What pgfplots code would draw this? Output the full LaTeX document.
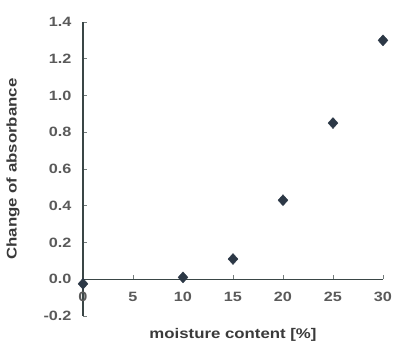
\documentclass[border=0pt]{standalone}
\usepackage{fontspec}
\setmainfont{Liberation Sans}[FakeStretch=1.2]
\usepackage{pgfplots}
\pgfplotsset{compat=1.18}
\definecolor{axc}{HTML}{3A4646}
\definecolor{mk}{HTML}{2C3846}
\definecolor{tk}{HTML}{5A5A5A}
\definecolor{lbl}{HTML}{3A3A3A}
\begin{document}
\begin{tikzpicture}
\begin{axis}[
  scale only axis, width=300pt, height=294pt,
  xmin=0, xmax=30, ymin=-0.2, ymax=1.4,
  axis lines=middle,
  axis line style={axc, line width=1.4pt, -},
  hide obscured x ticks=false, hide obscured y ticks=false,
  xtick={0,5,10,15,20,25,30},
  ytick={-0.2,0,0.2,0.4,0.6,0.8,1.0,1.2,1.4},
  tick align=inside,
  major tick length=4pt,
  tick style={axc!70, line width=0.6pt},
  /pgf/number format/assume math mode=true,
  yticklabel style={/pgf/number format/fixed, /pgf/number format/fixed zerofill, /pgf/number format/precision=1, xshift=-8pt},
  xticklabel style={/pgf/number format/fixed, /pgf/number format/precision=0, yshift=-9pt},
  every tick label/.append style={font=\fontsize{13.5}{15}\selectfont\bfseries, color=tk},
  every axis x label/.style={at={(axis description cs:0.5,-0.03)}, anchor=north, font=\fontsize{14}{16}\selectfont\bfseries, color=lbl},
  every axis y label/.style={at={(axis description cs:-0.2,0.5)}, rotate=90, anchor=south, font=\fontsize{14}{16}\selectfont\bfseries, color=lbl},
  xlabel={moisture content [\%]},
  ylabel={Change of absorbance},
  clip=false,
]
\addplot[only marks, mark=diamond*, mark size=5.5pt, mark options={draw=mk, fill=mk, xscale=1.2}]
  coordinates {(0,-0.025) (10,0.01) (15,0.11) (20,0.43) (25,0.85) (30,1.30)};
\path (axis description cs:-0.2767,-0.085) rectangle (axis description cs:1.0467,1.0748);
\end{axis}
\end{tikzpicture}
\end{document}
